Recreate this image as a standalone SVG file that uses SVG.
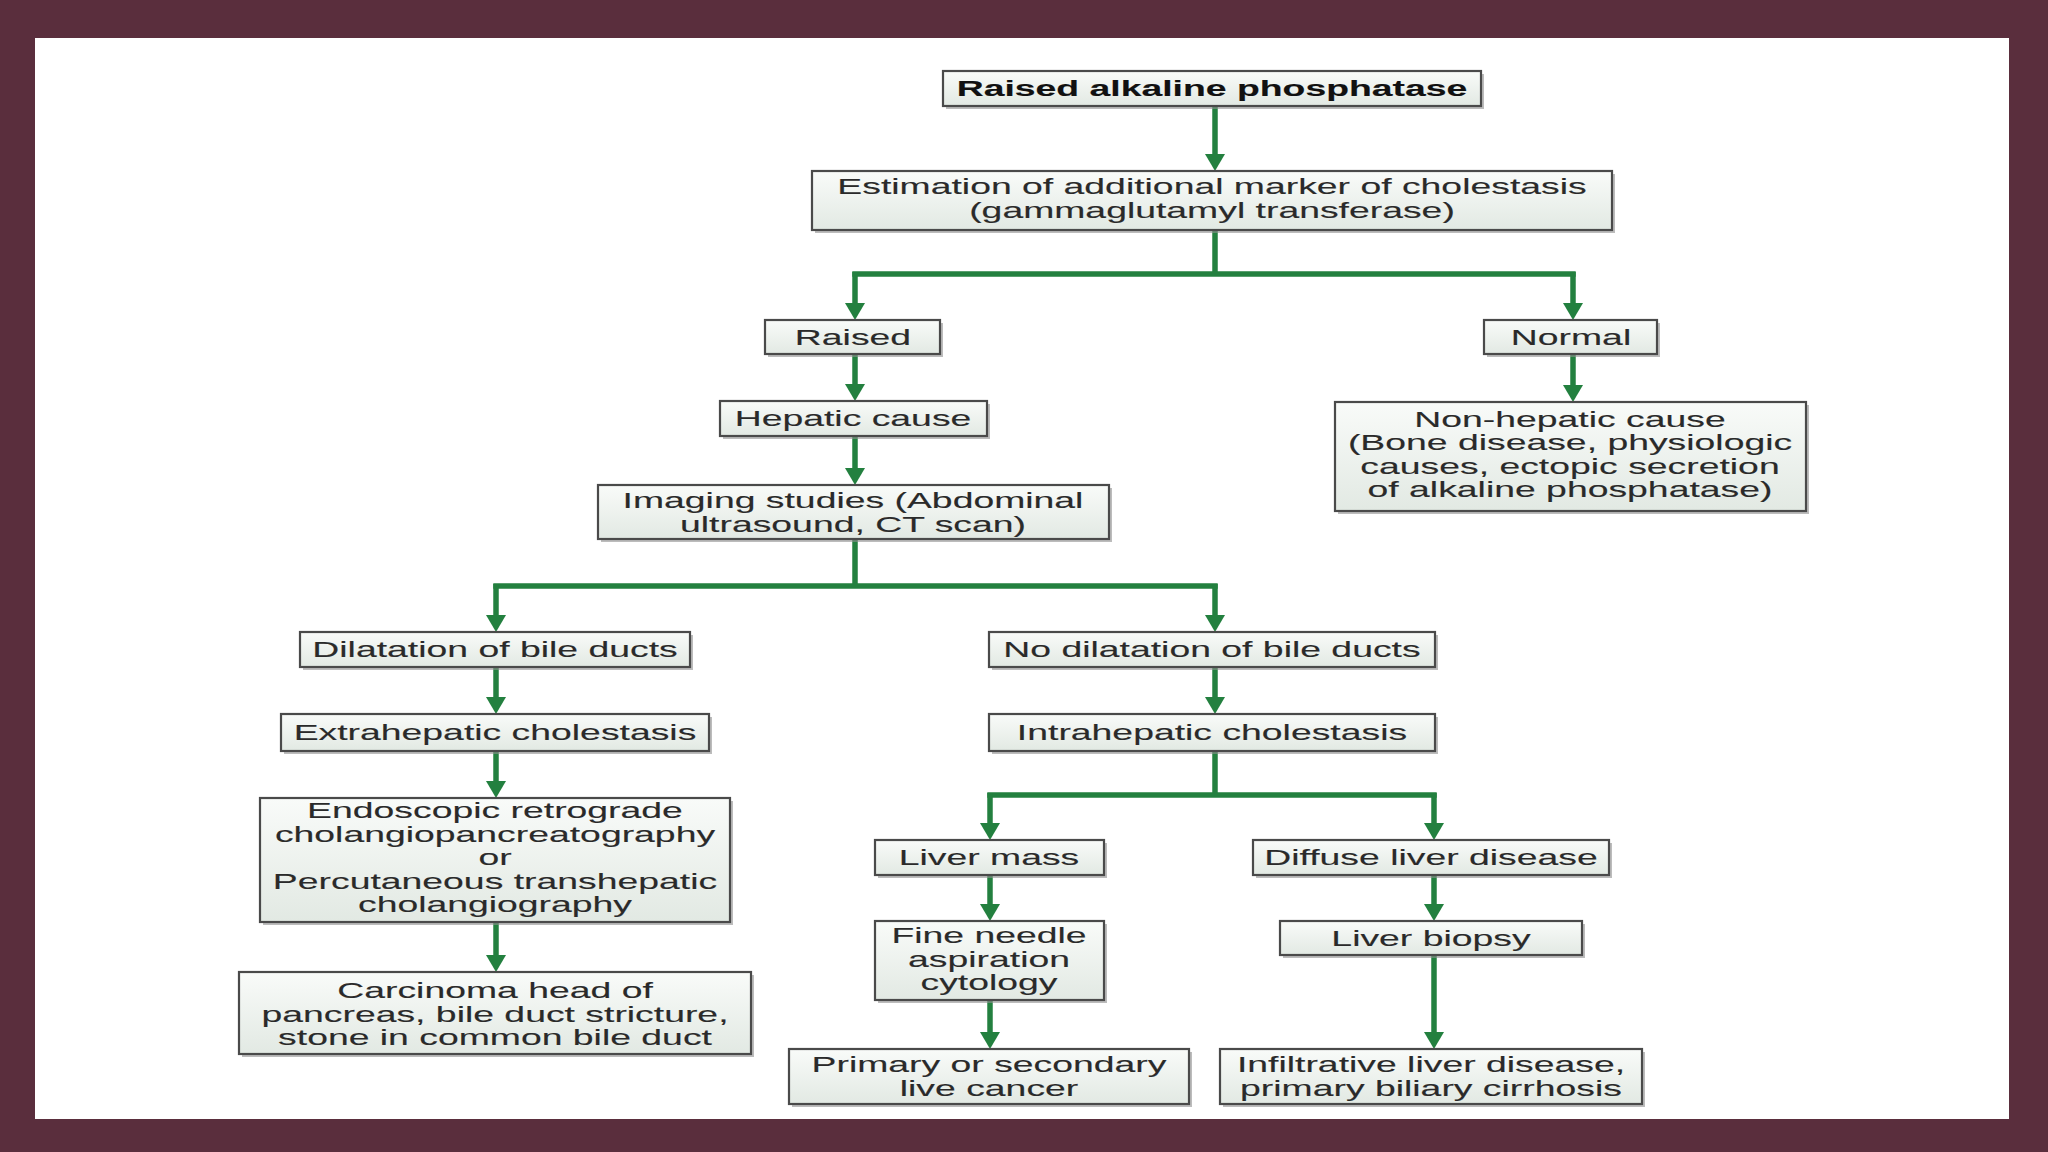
<svg xmlns="http://www.w3.org/2000/svg" width="2048" height="1152" viewBox="0 0 2048 1152">
<defs>
<linearGradient id="fillG" x1="0" y1="0" x2="0" y2="1">
<stop offset="0" stop-color="#f9fbf9"/>
<stop offset="1" stop-color="#e2e9e3"/>
</linearGradient>
<marker id="ah" markerUnits="userSpaceOnUse" markerWidth="18" markerHeight="20" refX="0" refY="10" orient="auto" viewBox="0 0 18 20">
<path d="M0,0 L17,10 L0,20 z" fill="#23803f"/>
</marker>
</defs>
<style>
.sh{fill:#8f8f8f;opacity:0.6}
.bx{fill:url(#fillG);stroke:#4a4a4a;stroke-width:2.2}
.t{font-family:"Liberation Sans",Arial,sans-serif;font-size:22.5px;fill:#2a2a2a;stroke:#2a2a2a;stroke-width:0.12;text-anchor:middle}
.b{font-weight:bold;fill:#111;stroke:#111}
.c{fill:none;stroke:#23803f;stroke-width:5.5}
.a{marker-end:url(#ah)}
</style>
<rect x="0" y="0" width="2048" height="1152" fill="#5a2e3d"/>
<rect x="35" y="38" width="1974" height="1081" fill="#ffffff"/>

<g id="connectors">
<path class="c a" d="M1215,106 V154"/>
<path class="c" d="M1215,230 V274 M852.3,274 H1575.7"/>
<path class="c a" d="M855,272 V303"/>
<path class="c a" d="M1573,272 V303"/>
<path class="c a" d="M855,354 V384"/>
<path class="c a" d="M855,436 V468"/>
<path class="c a" d="M1573,354 V385"/>
<path class="c" d="M855,539 V586 M493.3,586 H1217.7"/>
<path class="c a" d="M496,584 V615"/>
<path class="c a" d="M1215,584 V615"/>
<path class="c a" d="M496,667 V697"/>
<path class="c a" d="M1215,667 V697"/>
<path class="c a" d="M496,751 V781"/>
<path class="c a" d="M496,922 V955"/>
<path class="c" d="M1215,751 V795 M987.3,795 H1436.7"/>
<path class="c a" d="M990,793 V823"/>
<path class="c a" d="M1434,793 V823"/>
<path class="c a" d="M990,875 V904"/>
<path class="c a" d="M990,1000 V1032"/>
<path class="c a" d="M1434,875 V904"/>
<path class="c a" d="M1434,955 V1032"/>
</g>

<g id="n1">
<rect class="sh" x="946" y="74" width="538" height="35"/>
<rect class="bx" x="943" y="71" width="538" height="35"/>
<text class="t b" transform="translate(1212,95.5) scale(1.66,1)">Raised alkaline phosphatase</text>
</g>
<g id="n2">
<rect class="sh" x="815" y="174" width="800" height="59"/>
<rect class="bx" x="812" y="171" width="800" height="59"/>
<text class="t" transform="translate(1212,0) scale(1.66,1)"><tspan x="0" y="194.5">Estimation of additional marker of cholestasis</tspan><tspan x="0" y="218">(gammaglutamyl transferase)</tspan></text>
</g>
<g id="n3">
<rect class="sh" x="768" y="323" width="175" height="34"/>
<rect class="bx" x="765" y="320" width="175" height="34"/>
<text class="t" transform="translate(853,344.5) scale(1.66,1)">Raised</text>
</g>
<g id="n4">
<rect class="sh" x="1487" y="323" width="173" height="34"/>
<rect class="bx" x="1484" y="320" width="173" height="34"/>
<text class="t" transform="translate(1571,344.5) scale(1.66,1)">Normal</text>
</g>
<g id="n5">
<rect class="sh" x="723" y="404" width="267" height="35"/>
<rect class="bx" x="720" y="401" width="267" height="35"/>
<text class="t" transform="translate(853,425.5) scale(1.66,1)">Hepatic cause</text>
</g>
<g id="n6">
<rect class="sh" x="1338" y="405" width="471" height="109"/>
<rect class="bx" x="1335" y="402" width="471" height="109"/>
<text class="t" transform="translate(1570,0) scale(1.66,1)"><tspan x="0" y="427">Non-hepatic cause</tspan><tspan x="0" y="450.5">(Bone disease, physiologic</tspan><tspan x="0" y="474">causes, ectopic secretion</tspan><tspan x="0" y="497.5">of alkaline phosphatase)</tspan></text>
</g>
<g id="n7">
<rect class="sh" x="601" y="488" width="511" height="54"/>
<rect class="bx" x="598" y="485" width="511" height="54"/>
<text class="t" transform="translate(853,0) scale(1.66,1)"><tspan x="0" y="508.5">Imaging studies (Abdominal</tspan><tspan x="0" y="532">ultrasound, CT scan)</tspan></text>
</g>
<g id="n8">
<rect class="sh" x="303" y="635" width="390" height="35"/>
<rect class="bx" x="300" y="632" width="390" height="35"/>
<text class="t" transform="translate(495,656.5) scale(1.66,1)">Dilatation of bile ducts</text>
</g>
<g id="n9">
<rect class="sh" x="992" y="635" width="446" height="35"/>
<rect class="bx" x="989" y="632" width="446" height="35"/>
<text class="t" transform="translate(1212,656.5) scale(1.66,1)">No dilatation of bile ducts</text>
</g>
<g id="n10">
<rect class="sh" x="284" y="717" width="428" height="37"/>
<rect class="bx" x="281" y="714" width="428" height="37"/>
<text class="t" transform="translate(495,739.5) scale(1.66,1)">Extrahepatic cholestasis</text>
</g>
<g id="n11">
<rect class="sh" x="992" y="717" width="446" height="37"/>
<rect class="bx" x="989" y="714" width="446" height="37"/>
<text class="t" transform="translate(1212,739.5) scale(1.66,1)">Intrahepatic cholestasis</text>
</g>
<g id="n12">
<rect class="sh" x="263" y="801" width="470" height="124"/>
<rect class="bx" x="260" y="798" width="470" height="124"/>
<text class="t" transform="translate(495,0) scale(1.66,1)"><tspan x="0" y="818.5">Endoscopic retrograde</tspan><tspan x="0" y="842">cholangiopancreatography</tspan><tspan x="0" y="865.5">or</tspan><tspan x="0" y="889">Percutaneous transhepatic</tspan><tspan x="0" y="912.5">cholangiography</tspan></text>
</g>
<g id="n13">
<rect class="sh" x="242" y="975" width="512" height="82"/>
<rect class="bx" x="239" y="972" width="512" height="82"/>
<text class="t" transform="translate(495,0) scale(1.66,1)"><tspan x="0" y="998.5">Carcinoma head of</tspan><tspan x="0" y="1022">pancreas, bile duct stricture,</tspan><tspan x="0" y="1045.5">stone in common bile duct</tspan></text>
</g>
<g id="n14">
<rect class="sh" x="878" y="843" width="229" height="35"/>
<rect class="bx" x="875" y="840" width="229" height="35"/>
<text class="t" transform="translate(989,864.5) scale(1.66,1)">Liver mass</text>
</g>
<g id="n15">
<rect class="sh" x="1256" y="843" width="356" height="35"/>
<rect class="bx" x="1253" y="840" width="356" height="35"/>
<text class="t" transform="translate(1431,864.5) scale(1.66,1)">Diffuse liver disease</text>
</g>
<g id="n16">
<rect class="sh" x="878" y="924" width="229" height="79"/>
<rect class="bx" x="875" y="921" width="229" height="79"/>
<text class="t" transform="translate(989,0) scale(1.66,1)"><tspan x="0" y="943.5">Fine needle</tspan><tspan x="0" y="967">aspiration</tspan><tspan x="0" y="990.5">cytology</tspan></text>
</g>
<g id="n17">
<rect class="sh" x="1283" y="924" width="302" height="34"/>
<rect class="bx" x="1280" y="921" width="302" height="34"/>
<text class="t" transform="translate(1431,945.5) scale(1.66,1)">Liver biopsy</text>
</g>
<g id="n18">
<rect class="sh" x="792" y="1052" width="400" height="55"/>
<rect class="bx" x="789" y="1049" width="400" height="55"/>
<text class="t" transform="translate(989,0) scale(1.66,1)"><tspan x="0" y="1072.5">Primary or secondary</tspan><tspan x="0" y="1096">live cancer</tspan></text>
</g>
<g id="n19">
<rect class="sh" x="1223" y="1052" width="422" height="55"/>
<rect class="bx" x="1220" y="1049" width="422" height="55"/>
<text class="t" transform="translate(1431,0) scale(1.66,1)"><tspan x="0" y="1072.5">Infiltrative liver disease,</tspan><tspan x="0" y="1096">primary biliary cirrhosis</tspan></text>
</g>
</svg>
